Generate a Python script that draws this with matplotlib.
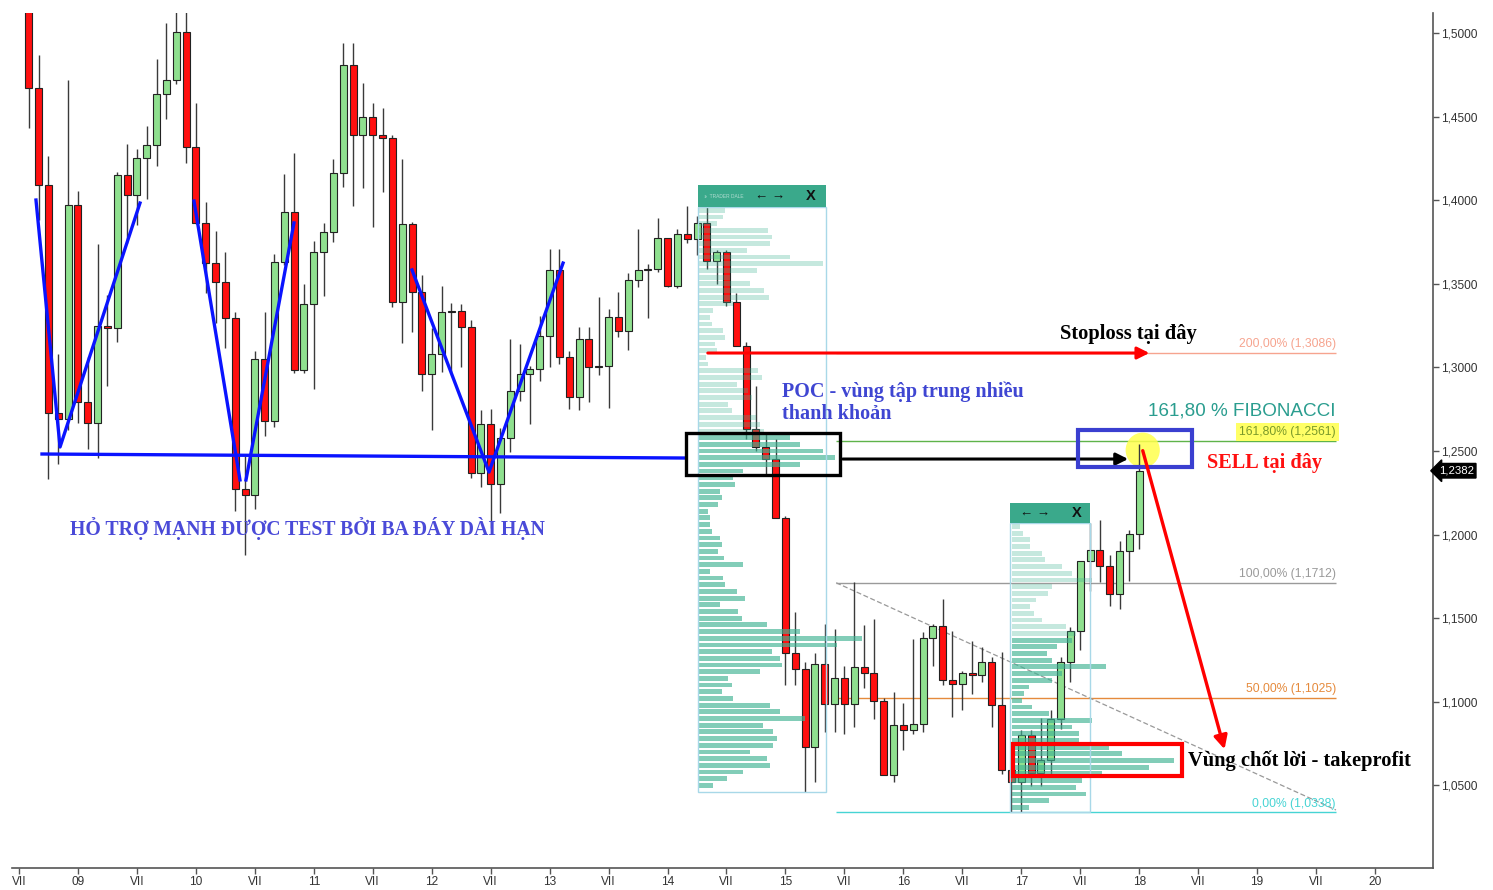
import matplotlib
matplotlib.use("Agg")
import matplotlib.pyplot as plt
import matplotlib.patches as mpatches
import matplotlib.transforms as mtransforms
import numpy as np
import pandas as pd

# EUR/USD, nến tháng 08/2008 -> 01/2018
first_month = "2008-08-01"
opens = [1.5600, 1.4673, 1.4090, 1.2729, 1.2694, 1.3971, 1.2796, 1.2667, 1.3250, 1.3233,
         1.4153, 1.4031, 1.4252, 1.4332, 1.4637, 1.4718, 1.5005, 1.4320, 1.3865, 1.3627,
         1.3509, 1.3294, 1.2271, 1.2237, 1.3049, 1.2681, 1.3632, 1.3930, 1.2985, 1.3380,
         1.3690, 1.3810, 1.4160, 1.4810, 1.4390, 1.4500, 1.4390, 1.4370, 1.3390, 1.3860,
         1.3450, 1.2960, 1.3080, 1.3330, 1.3340, 1.3240, 1.2370, 1.2660, 1.2300, 1.2580,
         1.2860, 1.2960, 1.2990, 1.3190, 1.3580, 1.3060, 1.2820, 1.3170, 1.3000, 1.3010,
         1.3300, 1.3220, 1.3525, 1.3580, 1.3590, 1.3775, 1.3485, 1.3800, 1.3770, 1.3865,
         1.3635, 1.3690, 1.3390, 1.3130, 1.2630, 1.2525, 1.2450, 1.2100, 1.1290, 1.1195,
         1.0730, 1.1225, 1.0985, 1.1145, 1.0985, 1.1210, 1.1175, 1.1005, 1.0565, 1.0860,
         1.0830, 1.0870, 1.1380, 1.1455, 1.1130, 1.1105, 1.1170, 1.1160, 1.1240, 1.0980,
         1.0590, 1.0520, 1.0800, 1.0575, 1.0650, 1.0895, 1.1240, 1.1425, 1.1840, 1.1910,
         1.1810, 1.1645, 1.1900, 1.2005]
highs = [1.5625, 1.4867, 1.4267, 1.3080, 1.4719, 1.4058, 1.3063, 1.3738, 1.3433, 1.4168,
         1.4338, 1.4305, 1.4445, 1.4844, 1.5062, 1.5144, 1.5145, 1.4579, 1.3990, 1.3816,
         1.3693, 1.3332, 1.2468, 1.3096, 1.3333, 1.3677, 1.4158, 1.4282, 1.3500, 1.3756,
         1.3862, 1.4248, 1.4940, 1.4940, 1.4700, 1.4580, 1.4550, 1.4390, 1.4248, 1.3870,
         1.3550, 1.3234, 1.3486, 1.3385, 1.3380, 1.3284, 1.2746, 1.2750, 1.2640, 1.3170,
         1.3140, 1.3010, 1.3308, 1.3710, 1.3710, 1.3100, 1.3240, 1.3240, 1.3420, 1.3350,
         1.3450, 1.3565, 1.3830, 1.3620, 1.3893, 1.3775, 1.3825, 1.3966, 1.3905, 1.3994,
         1.3700, 1.3700, 1.3445, 1.3150, 1.2890, 1.2600, 1.2570, 1.2110, 1.1535, 1.1240,
         1.1290, 1.1465, 1.1435, 1.1215, 1.1715, 1.1460, 1.1495, 1.1025, 1.1060, 1.0990,
         1.1375, 1.1415, 1.1465, 1.1615, 1.1425, 1.1185, 1.1365, 1.1325, 1.1270, 1.1300,
         1.0670, 1.0830, 1.0830, 1.0905, 1.0950, 1.1270, 1.1445, 1.1845, 1.2070, 1.2090,
         1.1880, 1.1960, 1.2025, 1.2540]
lows = [1.4430, 1.3882, 1.2330, 1.2422, 1.2623, 1.2666, 1.2510, 1.2457, 1.2888, 1.3153,
        1.3746, 1.3850, 1.4010, 1.4203, 1.4484, 1.4697, 1.4220, 1.3858, 1.3443, 1.3267,
        1.3115, 1.2142, 1.1876, 1.2153, 1.2588, 1.2642, 1.3612, 1.2969, 1.2968, 1.2870,
        1.3430, 1.3750, 1.4080, 1.3968, 1.4072, 1.3838, 1.4050, 1.3362, 1.3146, 1.3210,
        1.2856, 1.2624, 1.2975, 1.2975, 1.3000, 1.2340, 1.2287, 1.2042, 1.2130, 1.2494,
        1.2800, 1.2660, 1.2920, 1.3000, 1.3020, 1.2750, 1.2745, 1.2795, 1.2955, 1.2755,
        1.3180, 1.3105, 1.3480, 1.3296, 1.3570, 1.3480, 1.3475, 1.3745, 1.3670, 1.3590,
        1.3500, 1.3365, 1.3130, 1.2570, 1.2500, 1.2360, 1.2100, 1.1100, 1.1100, 1.0460,
        1.0520, 1.0820, 1.0820, 1.0810, 1.0850, 1.1085, 1.0895, 1.0560, 1.0520, 1.0710,
        1.0810, 1.0820, 1.1215, 1.1100, 1.0910, 1.0950, 1.1045, 1.1120, 1.0850, 1.0570,
        1.0340, 1.0340, 1.0495, 1.0495, 1.0570, 1.0840, 1.1120, 1.1310, 1.1660, 1.1715,
        1.1575, 1.1555, 1.1720, 1.1915]
closes = [1.4673, 1.4090, 1.2729, 1.2694, 1.3971, 1.2796, 1.2667, 1.3250, 1.3233, 1.4153,
          1.4031, 1.4252, 1.4332, 1.4637, 1.4718, 1.5005, 1.4320, 1.3865, 1.3627, 1.3509,
          1.3294, 1.2271, 1.2237, 1.3049, 1.2681, 1.3632, 1.3930, 1.2985, 1.3380, 1.3690,
          1.3810, 1.4160, 1.4810, 1.4390, 1.4500, 1.4390, 1.4370, 1.3390, 1.3860, 1.3450,
          1.2960, 1.3080, 1.3330, 1.3340, 1.3240, 1.2370, 1.2660, 1.2300, 1.2580, 1.2860,
          1.2960, 1.2990, 1.3190, 1.3580, 1.3060, 1.2820, 1.3170, 1.3000, 1.3010, 1.3300,
          1.3220, 1.3525, 1.3580, 1.3590, 1.3775, 1.3485, 1.3800, 1.3770, 1.3865, 1.3635,
          1.3690, 1.3390, 1.3130, 1.2630, 1.2525, 1.2450, 1.2100, 1.1290, 1.1195, 1.0730,
          1.1225, 1.0985, 1.1145, 1.0985, 1.1210, 1.1175, 1.1005, 1.0565, 1.0860, 1.0830,
          1.0870, 1.1380, 1.1455, 1.1130, 1.1105, 1.1170, 1.1160, 1.1240, 1.0980, 1.0590,
          1.0520, 1.0800, 1.0575, 1.0650, 1.0895, 1.1240, 1.1425, 1.1840, 1.1910, 1.1810,
          1.1645, 1.1900, 1.2005, 1.2382]
last_price = 1.2382

# Volume profile 1 (2014-2015), từ giá trên xuống, mỗi mức 0,004
prof1_top = 1.396
prof1_vol = [27, 25, 19, 70, 74, 72, 49, 92, 125, 59,
             32, 52, 66, 71, 35, 15, 12, 14, 25, 27,
             17, 19, 8, 10, 60, 64, 39, 50, 54, 30,
             34, 58, 62, 66, 92, 102, 125, 137, 102, 45,
             35, 37, 22, 24, 20, 10, 12, 12, 14, 22,
             24, 20, 26, 45, 12, 25, 27, 39, 47, 22,
             40, 44, 69, 102, 164, 139, 74, 82, 84, 62,
             30, 34, 24, 35, 72, 82, 107, 65, 75, 79,
             75, 52, 69, 72, 45, 29, 15]
# Volume profile 2 (2017)
prof2_top = 1.2069
prof2_vol = [8, 11, 18, 18, 30, 33, 50, 60, 80, 40,
             36, 24, 18, 22, 30, 54, 64, 60, 45, 35,
             40, 94, 50, 40, 17, 12, 10, 20, 37, 80,
             60, 67, 67, 97, 110, 162, 137, 90, 70, 64,
             74, 37, 17]
prof_step = 0.004

# Fibonacci
fib_pct = ["0,00%", "50,00%", "100,00%", "161,80%", "200,00%"]
fib_price = [1.0338, 1.1025, 1.1712, 1.2561, 1.3086]
fib_color = ["#47d4d4", "#e58a3c", "#9a9a9a", "#5fb34a", "#f6a48f"]

yticks = [1.05, 1.10, 1.15, 1.20, 1.25, 1.30, 1.35, 1.40, 1.45, 1.50]
xtick_pos = [2008.5 + 0.5 * k for k in range(24)]
xtick_lab = ["VII", "09", "VII", "10", "VII", "11", "VII", "12", "VII", "13", "VII", "14",
             "VII", "15", "VII", "16", "VII", "17", "VII", "18", "VII", "19", "VII", "20"]

# Đường vẽ tay (năm, giá)
support_line = [(2008.695, 1.2482), (2014.157, 1.2458)]
v_lines = [[(2008.644, 1.4001), (2008.848, 1.2524), (2009.526, 1.3983)],
           [(2009.984, 1.3995), (2010.374, 1.2327)],
           [(2010.425, 1.2327), (2010.832, 1.3864)],
           [(2011.833, 1.3583), (2012.486, 1.2374), (2013.114, 1.3624)]]

serif = ["Liberation Serif", "DejaVu Serif"]
sans = ["Liberation Sans", "DejaVu Sans"]
plt.rcParams["font.family"] = sans

months = pd.date_range(first_month, periods=len(closes), freq="MS")
t = np.array(months.year + (months.month - 1) / 12.0)
o = np.array(opens)
h = np.array(highs)
l = np.array(lows)
c = np.array(closes)

fig = plt.figure(figsize=(14.93, 8.90), dpi=100)
ax = fig.add_axes([12 / 1493, 22 / 890, 1421 / 1493, 855 / 890])
ax.set_xlim(2008.4406, 2020.4918)
ax.set_ylim(1.0006, 1.51196)

# px -> đơn vị trục
px_x = (2020.4918 - 2008.4406) / 1421
px_y = (1.51196 - 1.0006) / 855

# Nến
up = c >= o
ax.vlines(t, l, h, color="#3a3a3a", lw=1, zorder=3)
body_w = 7 * px_x
hgt = np.maximum(np.abs(c - o), 0.0006)
ax.bar(t, hgt, bottom=np.minimum(o, c), width=body_w,
       color=np.where(up, "#8fe08f", "#ff1010"), edgecolor="#222222", lw=0.8, zorder=3)

# Fibonacci
fib_x0, fib_x1 = 2015.43, 2019.669
for pct, pr, col in zip(fib_pct, fib_price, fib_color):
    ax.hlines(pr, fib_x0, fib_x1, color=col, lw=1, zorder=2)
    lab = "%s (%s)" % (pct, ("%.4f" % pr).replace(".", ","))
    kw = {}
    if pct == "161,80%":
        kw["bbox"] = dict(boxstyle="square,pad=0.25", fc="#ffff66", ec="none")
        col = "#7a9a2a"
    ax.annotate(lab, (fib_x1, pr), xytext=(0, 2), textcoords="offset points",
                ha="right", va="bottom", fontsize=8.7, color=col, zorder=6, **kw)
ax.plot([fib_x0, fib_x1], [fib_price[2], fib_price[0] + 0.0015], color="#999999",
        lw=0.9, ls=(0, (4, 2)), zorder=2)

# Volume profiles
teal = "#3fb393"
def profile(top, vols, x_left, split):
    vols = np.array(vols)
    centers = top - prof_step * (np.arange(len(vols)) + 0.5)
    dark = centers < split
    ax.barh(centers[~dark], vols[~dark] * px_x, height=prof_step * 0.72, left=x_left,
            color=teal, alpha=0.3, lw=0, zorder=4)
    ax.barh(centers[dark], vols[dark] * px_x, height=prof_step * 0.72, left=x_left,
            color=teal, alpha=0.65, lw=0, zorder=4)

def profile_box(x0, x1, y_top, y_head, y_bot, arrows_x, x_x, logo):
    ax.add_patch(mpatches.Rectangle((x0, y_bot), x1 - x0, y_head - y_bot, fill=False,
                                    ec="#a8d8e8", lw=1, zorder=4))
    ax.add_patch(mpatches.Rectangle((x0, y_head), x1 - x0, y_top - y_head,
                                    fc="#3aa98b", ec="none", zorder=5))
    ym = (y_top + y_head) / 2
    ax.text(arrows_x, ym, "\u2190 \u2192", ha="center", va="center", fontsize=9.5,
            color="#111111", zorder=6)
    ax.text(x_x, ym, "X", ha="center", va="center", fontsize=10.5, fontweight="bold",
            color="#111111", zorder=6)
    if logo:
        ax.text(x0 + 0.05, ym, "\u25d1  TRADER DALE", ha="left", va="center", fontsize=3.5,
                color="white", alpha=0.6, zorder=6)

profile(prof1_top, prof1_vol, 2014.258, 1.262)
profile_box(2014.258, 2015.344, 1.4091, 1.3959, 1.0461, 2014.869, 2015.217, True)
profile(prof2_top, prof2_vol, 2016.92, 1.137)
profile_box(2016.905, 2017.583, 1.2189, 1.2069, 1.0341, 2017.117, 2017.473, False)

# Hỗ trợ + ba đáy
ax.plot(*zip(*support_line), color="#0a14ff", lw=2.4, zorder=5)
for vl in v_lines:
    ax.plot(*zip(*vl), color="#0a14ff", lw=2.4, zorder=5)

# POC box + mũi tên đen
ax.add_patch(mpatches.Rectangle((2014.157, 1.2357), 1.306, 0.0251, fill=False,
                                ec="black", lw=2.4, zorder=6))
ax.annotate("", xy=(2017.93, 1.2452), xytext=(2015.463, 1.2452),
            arrowprops=dict(arrowstyle="-|>", color="black", lw=2.2, mutation_scale=18),
            zorder=6)

# Stoploss
ax.annotate("", xy=(2018.11, 1.3086), xytext=(2014.318, 1.3086),
            arrowprops=dict(arrowstyle="-|>", color="#ff0000", lw=2.2, mutation_scale=18),
            zorder=6)

# SELL
ax.add_patch(mpatches.Ellipse((2018.03, 1.2505), 0.29, 0.021, fc="#ffff4d", ec="none",
                              alpha=0.85, zorder=2.5))
ax.add_patch(mpatches.Rectangle((2017.481, 1.2404), 0.967, 0.0222, fill=False,
                                ec="#3a3fd0", lw=3, zorder=6))
ax.annotate("", xy=(2018.73, 1.0700), xytext=(2018.024, 1.2518),
            arrowprops=dict(arrowstyle="-|>", color="#ff0000", lw=2.4, mutation_scale=20),
            zorder=6)

# Take profit
ax.add_patch(mpatches.Rectangle((2016.93, 1.0556), 1.433, 0.0192, fill=False,
                                ec="#ff0000", lw=3, zorder=6))

# Chữ
ax.text(2017.329, 1.3200, "Stoploss tại đây", family=serif, fontweight="bold",
        fontsize=14.8, color="black", va="center", zorder=7)
ax.text(2014.971, 1.2853, "POC - vùng tập trung nhiều", family=serif, fontweight="bold",
        fontsize=14.5, color="#3f46d2", va="center", zorder=7)
ax.text(2014.971, 1.2721, "thanh khoản", family=serif, fontweight="bold",
        fontsize=14.5, color="#3f46d2", va="center", zorder=7)
ax.text(2018.075, 1.2739, "161,80 % FIBONACCI", family=sans, fontsize=13.6,
        color="#2a9d8f", va="center", zorder=7)
ax.text(2018.575, 1.2428, "SELL tại đây", family=serif, fontweight="bold",
        fontsize=14.6, color="#ff1010", va="center", zorder=7)
ax.text(2018.414, 1.0646, "Vùng chốt lời - takeprofit", family=serif, fontweight="bold",
        fontsize=14.8, color="black", va="center", zorder=7)
ax.text(2008.933, 1.2039, "HỎ TRỢ MẠNH ĐƯỢC TEST BỞI BA ĐÁY DÀI HẠN", family=serif,
        fontweight="bold", fontsize=14.2, color="#4a4ad8", va="center", zorder=7)

# Trục
for s in ["top", "left"]:
    ax.spines[s].set_visible(False)
for s in ["right", "bottom"]:
    ax.spines[s].set_color("#555555")
    ax.spines[s].set_linewidth(1.2)
ax.yaxis.tick_right()
ax.set_yticks(yticks)
ax.set_yticklabels([("%.4f" % v).replace(".", ",") for v in yticks])
ax.set_xticks(xtick_pos)
ax.set_xticklabels(xtick_lab)
ax.tick_params(axis="both", direction="out", length=4, width=1, color="#555555",
               labelsize=8.6, labelcolor="#333333", pad=2)

trans = mtransforms.blended_transform_factory(ax.transAxes, ax.transData)
ax.text(1.004, last_price, ("%.4f" % last_price).replace(".", ","), transform=trans,
        ha="left", va="center", fontsize=8.2, color="white", clip_on=False,
        bbox=dict(boxstyle="larrow,pad=0.2", fc="black", ec="black"), zorder=8)

fig.savefig("out.png", dpi=100)
